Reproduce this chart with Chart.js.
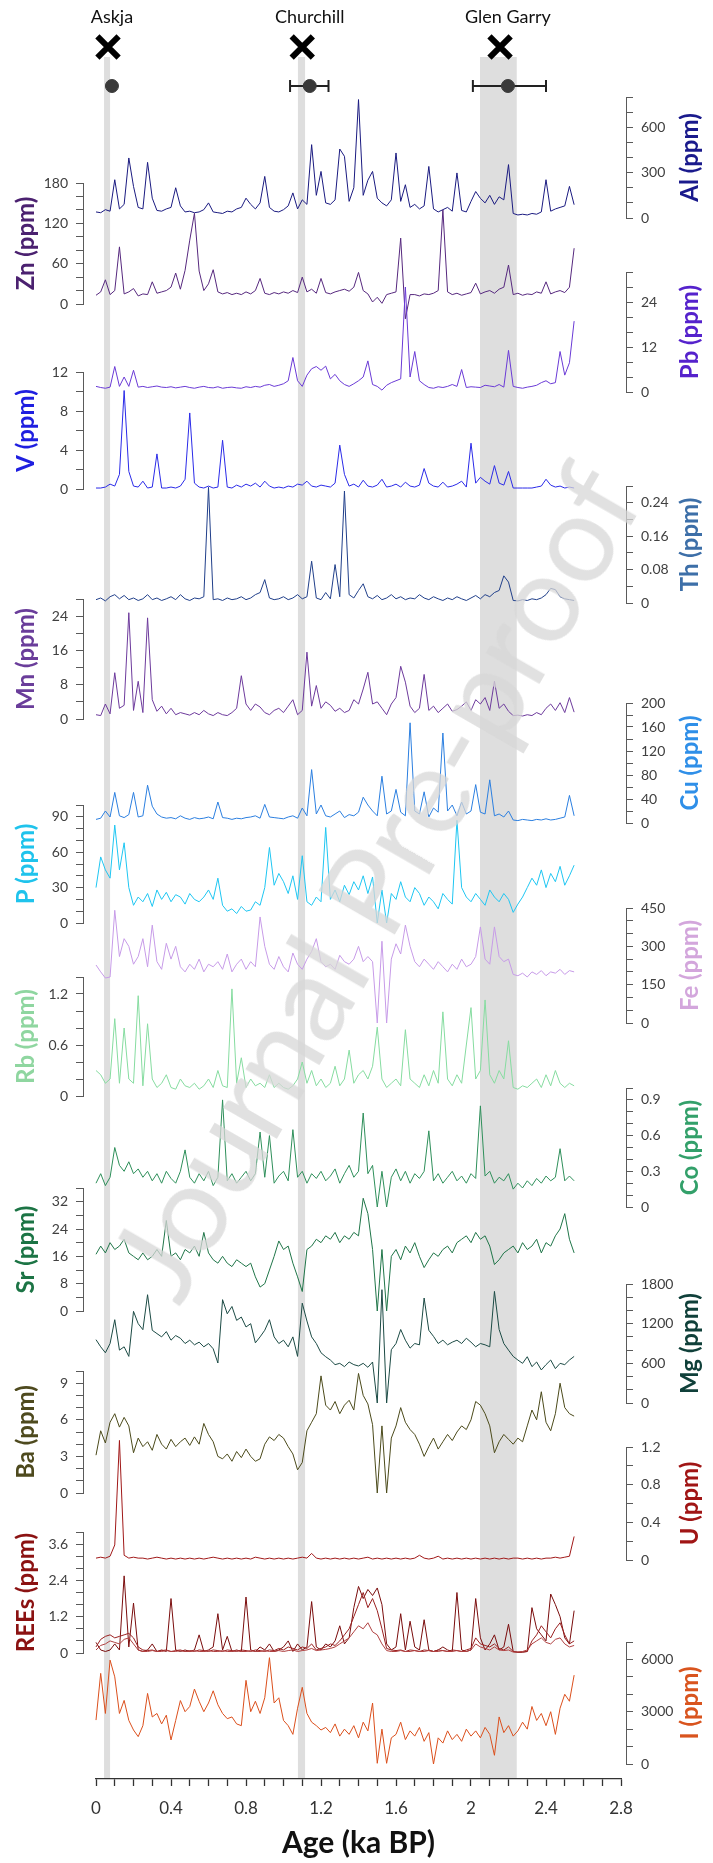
<!DOCTYPE html>
<html>
<head>
<meta charset="utf-8">
<script src="https://cdn.jsdelivr.net/npm/chart.js@4.4.0/dist/chart.umd.min.js"></script>
<style>
body { margin: 0; background: #fff; }
#wrap { position: relative; width: 713px; height: 1863px; overflow: hidden; }
#wrap canvas { position: absolute; left: 0; }
#mark { position: absolute; left: 372px; top: 880px; transform: translate(-50%, -50%) rotate(-60deg);
  font: 122px Lato, sans-serif; color: rgba(215,215,215,0.75); white-space: nowrap; pointer-events: none; line-height: 1; }
</style>
</head>
<body>
<div id="wrap"><canvas id="base" width="713" height="1863" style="top:0"></canvas><div id="mark">Journal Pre-proof</div></div>
<script>
// ages (ka BP) shared by every record
var ages = [0,0.025,0.05,0.075,0.1,0.125,0.15,0.175,0.2,0.225,0.25,0.275,0.3,0.325,0.35,0.375,0.4,0.425,0.45,0.475,0.5,0.525,0.55,0.575,0.6,0.625,0.65,0.675,0.7,0.725,0.75,0.775,0.8,0.825,0.85,0.875,0.9,0.925,0.95,0.975,1,1.025,1.05,1.075,1.1,1.125,1.15,1.175,1.2,1.225,1.25,1.275,1.3,1.325,1.35,1.375,1.4,1.425,1.45,1.475,1.5,1.525,1.55,1.575,1.6,1.625,1.65,1.675,1.7,1.725,1.75,1.775,1.8,1.825,1.85,1.875,1.9,1.925,1.95,1.975,2,2.025,2.05,2.075,2.1,2.125,2.15,2.175,2.2,2.225,2.25,2.275,2.3,2.325,2.35,2.375,2.4,2.425,2.45,2.475,2.5,2.525,2.55];

var al = [40,35,55,45,253,60,90,397,209,70, 60,368,131,50,45,60,70,200,80,40, 45,35,40,55,100,40,35,30,45,40, 60,70,131,90,60,100,275,70,45,40,
  55,80,166,60,120,90,485,150,308,100, 90,120,456,408,110,200,783,150,250,308, 131,100,80,120,430,110,220,70,90,60, 80,341,60,40,55,70,45,298,50,40,
  110,175,130,100,150,90,140,120,353,30, 20,25,20,30,25,40,253,45,60,70, 80,209,88];
var zn = [13,18,36,14,20,85,15,18,23,12, 15,14,33,16,18,20,25,46,22,50, 95,135,49,20,30,51,18,15,17,14, 16,14,18,15,20,38,16,14,17,15,
  18,16,20,17,40,18,22,16,38,17, 15,18,20,22,19,25,47,20,15,3, 10,1,14,16,18,98,-22,14,14,12, 15,14,16,20,140,18,14,16,13,15,
  17,31,15,18,20,16,22,25,58,14, 16,13,15,14,18,16,33,15,18,20, 17,25,83];
var pb = [1.5,1.2,1.0,1.3,6.8,1.5,4.0,1.5,5.8,1.3, 1.5,1.2,1.4,1.6,1.3,1.2,1.4,1.1,1.3,1.5, 1.2,1.0,1.3,1.5,1.2,1.1,1.4,1.0,1.2,1.3, 1.1,1.0,1.4,1.2,1.5,1.3,1.8,2.0,1.5,1.8,
  2.2,3.0,9.2,3.0,1.5,4.5,6.2,6.8,5.8,6.9, 3.5,4.7,3.0,2.0,1.5,2.2,3.0,4.0,8.3,2.0, 1.5,0.5,1.8,2.5,3.0,3.5,28,4.0,10.8,3.0, 2.0,1.2,1.0,1.4,1.2,1.5,2.0,1.5,6.0,1.2,
  1.4,1.3,1.2,1.8,1.6,1.4,2.0,1.3,11.1,1.5, 1.2,1.0,1.3,1.5,1.8,2.5,3.0,2.2,2.5,10.8, 4.5,7.8,18.9];
var v = [0.1,0.1,0.2,0.5,0.3,1.5,10.1,1.8,0.3,0.2, 0.8,0.1,0.2,3.6,0.1,0.1,0.2,0.1,0.3,1.0, 7.8,0.6,0.2,0.1,0.3,0.1,0.2,5.0,0.2,0.1, 0.4,0.2,0.5,0.3,0.6,0.2,0.8,0.3,0.1,0.2,
  0.1,0.3,0.2,0.5,0.4,0.8,0.3,0.2,0.4,0.3, 0.2,0.6,4.5,1.5,0.3,0.5,0.2,0.9,0.3,0.2, 0.4,1.0,0.2,0.3,0.5,0.2,0.7,0.3,0.2,0.4, 2.1,0.6,0.3,0.2,0.7,0.2,0.3,0.5,0.8,0.2,
  4.7,0.6,1.2,0.8,0.5,2.4,0.6,0.4,1.8,0.1, 0.1,0.1,0.1,0.1,0.2,0.3,1.0,0.4,0.2,0.3, 0.1,0.2,0.1];
var th = [.008,.012,.005,.015,.02,.01,.018,.008,.012,.006, .01,.02,.008,.012,.006,.01,.015,.008,.02,.01, .006,.012,.01,.015,.277,.008,.01,.006,.012,.008, .01,.015,.008,.012,.02,.025,.056,.012,.008,.01,
  .015,.008,.012,.02,.01,.015,.10,.012,.008,.025, .01,.092,.015,.268,.02,.012,.03,.046,.015,.01, .018,.008,.012,.02,.01,.015,.008,.012,.01,.02, .012,.008,.015,.01,.006,.012,.008,.015,.01,.006,
  .012,.018,.01,.02,.015,.025,.03,.065,.05,.006, .005,.008,.006,.01,.008,.012,.02,.035,.032,.015, .01,.008,.006];
var mn = [1.0,0.8,3.5,1.2,10.8,2.5,3.2,24.8,2.0,8.8, 1.5,23.6,4.5,1.8,3.0,1.2,2.5,1.0,1.5,1.2, 0.9,1.5,1.0,2.0,1.2,0.8,1.5,1.0,0.8,1.5, 2.5,10.1,3.5,2.0,3.5,2.8,1.5,1.0,2.0,2.5,
  1.5,3.0,4.5,1.0,2.0,15.6,3.0,7.8,2.5,4.0, 3.2,1.8,2.5,1.5,2.0,4.5,3.5,7.0,10.9,3.5, 4.0,2.5,1.0,3.5,5.0,12.3,8.6,3.0,1.5,2.5, 10.4,2.0,3.0,1.5,2.5,3.5,1.8,2.2,3.0,4.0,
  2.0,4.5,3.5,5.0,2.0,8.8,2.5,3.5,1.8,0.8, 0.9,0.7,1.0,0.8,1.5,1.0,2.5,3.5,2.0,3.8, 1.5,5.0,1.6];
var cu = [6,8,20,10,51,12,9,14,51,10, 12,63,28,15,10,8,9,7,12,8, 6,9,7,8,10,7,35,9,8,6, 8,7,9,10,12,8,31,10,9,8,
  7,10,12,8,25,12,89,15,30,12, 10,15,20,9,14,12,18,43,30,20, 12,78,15,20,56,18,12,167,20,15, 52,10,25,18,150,20,30,12,35,15,
  20,64,18,15,72,12,15,10,20,5, 4,6,5,4,6,5,7,5,6,8, 10,46,12];
var p = [30,56,45,38,83,45,68,30,15,22, 18,25,14,28,20,26,18,24,22,16, 25,20,18,22,28,20,38,15,10,12, 8,14,10,11,18,15,30,64,32,42,
  35,25,40,20,57,18,15,22,18,81, 20,28,18,32,24,35,28,40,25,39, 0,28,0,25,20,35,22,18,30,25, 15,22,18,12,25,20,16,87,30,22,
  18,25,20,15,28,22,18,25,20,9, 16,22,30,38,32,45,30,42,35,48, 32,40,49];
var fe = [227,200,176,180,441,260,330,300,230,260, 330,220,383,240,210,312,250,300,220,200, 230,210,250,200,230,220,240,210,270,200, 230,250,210,240,220,415,300,230,210,260,
  220,200,274,230,210,250,280,330,240,220, 230,210,265,240,230,250,300,240,260,240, 0,320,0,250,310,270,383,300,240,220, 250,230,210,240,220,200,230,210,250,220,
  230,260,376,250,230,376,260,240,250,190, 185,195,180,200,190,205,185,200,195,210, 190,205,200];
var rb = [0.3,0.25,0.15,0.2,0.91,0.15,0.8,0.2,0.15,1.18, 0.12,0.85,0.2,0.1,0.15,0.25,0.1,0.08,0.2,0.12, 0.1,0.15,0.08,0.12,0.2,0.1,0.3,0.12,0.1,1.26, 0.15,0.45,0.1,0.2,0.12,0.15,0.1,0.25,0.1,0.15,
  0.1,0.08,0.12,0.2,0.4,0.15,0.3,0.12,0.2,0.1, 0.15,0.35,0.12,0.2,0.54,0.15,0.25,0.3,0.2,0.35, 0.81,0.2,0.1,0.15,0.2,0.12,0.78,0.2,0.15,0.1, 0.25,0.12,0.3,0.15,0.99,0.2,0.12,0.25,0.15,0.6,
  1.04,0.2,0.3,1.13,0.25,0.15,0.3,0.2,0.65,0.1, 0.08,0.12,0.1,0.15,0.2,0.1,0.25,0.12,0.3,0.15, 0.1,0.15,0.12];
var co = [0.2,0.28,0.18,0.25,0.5,0.35,0.3,0.38,0.28,0.32, 0.25,0.3,0.22,0.28,0.2,0.3,0.24,0.2,0.3,0.48, 0.25,0.2,0.28,0.22,0.3,0.18,0.25,0.9,0.22,0.28, 0.2,0.25,0.3,0.22,0.28,0.63,0.25,0.6,0.2,0.26,
  0.3,0.22,0.65,0.25,0.3,0.2,0.28,0.24,0.3,0.22, 0.26,0.32,0.2,0.28,0.35,0.25,0.3,0.79,0.28,0.35, 0.0,0.3,0.0,0.25,0.32,0.22,0.3,0.2,0.28,0.24, 0.3,0.64,0.22,0.28,0.2,0.25,0.3,0.22,0.26,0.2,
  0.28,0.24,0.85,0.26,0.3,0.2,0.25,0.22,0.28,0.15, 0.2,0.16,0.22,0.18,0.24,0.2,0.26,0.22,0.25,0.49, 0.22,0.26,0.22];
var sr = [16.6,19,17,20,18,19,21,17,16,15, 17,15,16,18,16,26.5,16,17,15,18, 17,19,16,23,17,15,14,16,14,13, 15,14,13,14,10,7,8,12,16,20.5,
  18,19,14,10,5.7,18,19,21,20,22, 21,23,20,22,21,23,22,33,28.5,18, 0,18,0,16,18,15,19,17,20,16, 12.7,15,17,16,18,19,17,20,21,22,
  20,23,21,22,19,13.6,15,17,18,19, 17,20,18,19,21,17,20,19,22,24, 28.5,21,17];
var mg = [958,850,760,900,1260,800,850,705,1386,1200, 1109,1638,1100,1050,1000,1080,950,1020,980,900, 950,880,920,850,900,820,605,1563,1350,1460, 1250,1300,1150,1200,910,1000,1100,1260,1000,900,
  950,850,1000,705,1510,1240,1000,900,760,700, 650,580,600,550,620,580,560,600,540,620, 0,1714,0,806,900,1112,950,830,900,880, 1588,1100,1008,900,950,880,920,950,900,980,
  920,850,900,880,850,1688,1112,900,800,705, 650,600,700,550,620,500,580,650,520,600, 580,650,705];
var ba = [3.1,5.1,4.1,5.8,6.5,5.4,6.2,5.5,3.3,4.5, 3.8,4.2,3.5,4.8,4.0,3.6,4.4,3.8,4.2,4.5, 3.9,4.6,4.0,5.7,4.8,4.2,3.0,2.8,3.2,2.6, 3.4,2.9,3.6,3.0,2.6,2.8,4.0,4.6,4.3,4.8,
  4.5,3.8,3.2,1.9,2.5,5.1,5.8,6.5,9.6,7.2, 6.8,7.5,6.5,7.2,7.6,6.8,9.8,8.0,7.3,5.6, 0,5.5,0,4.5,5.5,7.0,5.8,5.2,4.8,4.0, 3.0,3.8,4.5,3.6,4.2,4.8,4.3,5.0,5.5,5.2,
  6.0,7.5,7.2,6.5,5.5,3.3,4.2,4.8,4.4,4.0, 4.5,4.2,5.5,6.8,6.0,8.3,5.8,5.1,6.5,9.0, 7.0,6.5,6.3];
var u = [0.02,0.03,0.02,0.04,0.16,1.27,0.05,0.02,0.03,0.02, 0.02,0.01,0.02,0.03,0.02,0.01,0.02,0.01,0.02,0.01, 0.02,0.01,0.02,0.01,0.02,0.03,0.02,0.01,0.02,0.01, 0.02,0.01,0.02,0.01,0.03,0.02,0.01,0.02,0.01,0.02,
  0.01,0.02,0.01,0.02,0.03,0.02,0.07,0.02,0.01,0.02, 0.01,0.02,0.01,0.02,0.01,0.02,0.01,0.02,0.03,0.01, 0.02,0.01,0.02,0.01,0.02,0.01,0.02,0.01,0.02,0.05, 0.02,0.01,0.02,0.04,0.01,0.02,0.01,0.02,0.01,0.02,
  0.01,0.02,0.01,0.02,0.01,0.02,0.01,0.02,0.01,0.02, 0.02,0.01,0.02,0.01,0.02,0.01,0.02,0.02,0.03,0.02, 0.03,0.04,0.25];
var ree1 = [0.35,0.1,0.05,0.1,0.3,0.1,2.55,0.2,1.65,0.1, 0.05,0.1,0.3,0.05,0.1,0.05,1.8,0.1,0.05,0.1, 0.05,0.1,0.6,0.05,0.1,0.2,1.3,0.1,0.55,0.05, 0.1,0.05,1.85,0.1,0.05,0.2,0.1,0.3,0.05,0.1,
  0.2,0.4,0.05,0.3,0.1,0.2,1.7,0.2,0.1,0.3, 0.2,0.4,0.9,0.3,0.5,1.5,2.2,1.8,2.1,1.9, 2.15,1.6,0.3,0.1,0.2,1.3,0.1,1.05,0.2,0.1, 1.1,0.1,0.05,0.1,0.2,0.1,0.05,2.0,0.1,0.05,
  0.1,1.8,0.5,0.1,0.3,0.6,0.1,0.2,0.95,0.05, 0.02,0.03,0.05,1.5,0.8,0.6,0.4,1.95,1.6,1.2, 0.5,0.3,1.4];
var ree2 = [0.2,0.45,0.55,0.6,0.5,0.55,0.6,0.65,0.5,0.2, 0.1,0.08,0.1,0.05,0.08,0.1,0.05,0.08,0.1,0.05, 0.08,0.05,0.1,0.08,0.05,0.1,0.08,0.05,0.1,0.08, 0.05,0.1,0.08,0.05,0.1,0.08,0.05,0.1,0.08,0.15,
  0.1,0.2,0.15,0.1,0.2,0.15,0.3,0.1,0.15,0.2, 0.3,0.25,0.4,0.6,0.8,1.2,1.6,2.0,1.5,1.8, 1.4,0.8,0.15,0.1,0.08,0.1,0.05,0.1,0.08,0.05, 0.1,0.08,0.05,0.1,0.08,0.05,0.1,0.08,0.05,0.1,
  0.15,0.5,0.3,0.25,0.2,0.3,0.15,0.1,0.2,0.05, 0.03,0.03,0.05,0.4,0.6,0.9,0.7,0.5,0.8,1.0, 0.6,0.3,0.4];
var ree3 = [0.1,0.25,0.3,0.4,0.35,0.3,0.45,0.5,0.3,0.1, 0.05,0.05,0.08,0.05,0.05,0.08,0.05,0.05,0.08,0.05, 0.05,0.08,0.05,0.05,0.08,0.05,0.05,0.08,0.05,0.05, 0.08,0.05,0.05,0.08,0.05,0.05,0.08,0.05,0.05,0.08,
  0.05,0.08,0.1,0.05,0.08,0.1,0.15,0.08,0.1,0.12, 0.15,0.2,0.3,0.4,0.5,0.7,0.9,0.8,1.0,0.7, 0.6,0.3,0.08,0.05,0.05,0.08,0.05,0.05,0.08,0.05, 0.05,0.08,0.05,0.05,0.08,0.05,0.05,0.08,0.05,0.05,
  0.1,0.3,0.2,0.15,0.1,0.2,0.1,0.08,0.1,0.03, 0.03,0.05,0.1,0.3,0.4,0.5,0.35,0.3,0.45,0.5, 0.3,0.2,0.25];
var iod = [2520,5200,2900,5960,5000,2900,3650,2500,1950,1570, 2200,4050,2700,2900,2300,2800,1380,2500,3640,3000, 3300,4300,3600,3000,3500,4200,3400,2900,2600,2700, 2300,2200,4800,3000,3600,2900,3800,6100,3500,3800,
  2500,2200,1700,3200,4400,2900,2400,2200,1950,2100, 1800,2300,1600,2000,1700,2200,1500,2400,1900,3500, 40,2000,40,1500,1700,2400,1400,1900,1600,2100, 1300,1800,0,1500,1200,1900,1400,1700,1300,2000,
  1600,1900,1500,2100,1700,500,2700,1800,2200,1600, 1900,2400,2000,3300,2500,2900,2200,3000,1700,3200, 4000,3600,5100];

// tephra layers
var tephraNames = ["Askja", "Churchill", "Glen Garry"];
var tephraAges = [0.064, 1.10, 2.155];
var modelAges = [0.085, 1.14, 2.197];
var modelLo = [null, 1.035, 2.01];
var modelHi = [null, 1.24, 2.40];
var bandFrom = [0.043, 1.077, 2.048];
var bandTo = [0.075, 1.115, 2.244];

var W = 713;
var axisLeftPx = 83, axisRightPx = 626;
var zeroPx = 96, endPx = 621, xAxisPx = 1779, bandTopPx = 57;
var pxPerKa = (endPx - zeroPx) / 2.8;
var xMin = -(zeroPx - axisLeftPx) / pxPerKa;
var xMax = 2.8 + (axisRightPx - endPx) / pxPerKa;

var panels = [
  {label:"Al (ppm)", lines:[al], colors:["#1a1a80"], title:"#1a1a8c", side:"right", max:800, step:100, every:300, dp:0, top:97.4, zero:218.3},
  {label:"Zn (ppm)", lines:[zn], colors:["#56287e"], title:"#4b2170", side:"left", max:180, step:20, every:60, dp:0, top:183.3, zero:304},
  {label:"Pb (ppm)", lines:[pb], colors:["#6a3ad6"], title:"#5522cc", side:"right", max:32, step:4, every:12, dp:0, top:271.7, zero:391.7},
  {label:"V (ppm)", lines:[v], colors:["#2a2ae8"], title:"#1f1fe0", side:"left", max:12, step:2, every:4, dp:0, top:371.7, zero:489},
  {label:"Th (ppm)", lines:[th], colors:["#203f8a"], title:"#3d6fa8", side:"right", max:0.28, step:0.04, every:0.08, dp:2, top:485.7, zero:603.3},
  {label:"Mn (ppm)", lines:[mn], colors:["#6d3a9c"], title:"#6a3d9a", side:"left", max:28, step:4, every:8, dp:0, top:599.3, zero:719.3},
  {label:"Cu (ppm)", lines:[cu], colors:["#2b7fe0"], title:"#2f8fe8", side:"right", max:200, step:20, every:40, dp:0, top:702.7, zero:822.7},
  {label:"P (ppm)", lines:[p], colors:["#1ec6f2"], title:"#1fc3ec", side:"left", max:100, step:10, every:30, dp:0, top:805, zero:923.3},
  {label:"Fe (ppm)", lines:[fe], colors:["#c79be8"], title:"#d3a6dc", side:"right", max:450, step:50, every:150, dp:0, top:907.7, zero:1023.3},
  {label:"Rb (ppm)", lines:[rb], colors:["#86dca0"], title:"#8fd6a0", side:"left", max:1.4, step:0.2, every:0.6, dp:1, top:976.7, zero:1096},
  {label:"Co (ppm)", lines:[co], colors:["#2e8f5a"], title:"#33a06a", side:"right", max:1.0, step:0.1, every:0.3, dp:1, top:1088.3, zero:1207.3},
  {label:"Sr (ppm)", lines:[sr], colors:["#1f7548"], title:"#1c7445", side:"left", max:36, step:4, every:8, dp:0, top:1188.3, zero:1310.7},
  {label:"Mg (ppm)", lines:[mg], colors:["#1b4a44"], title:"#10403a", side:"right", max:1800, step:200, every:600, dp:0, top:1284.3, zero:1403.3},
  {label:"Ba (ppm)", lines:[ba], colors:["#4b4a1a"], title:"#4e4a1e", side:"left", max:10, step:1, every:3, dp:0, top:1370.7, zero:1493.3},
  {label:"U (ppm)", lines:[u], colors:["#a01818"], title:"#a01515", side:"right", max:1.2, step:0.2, every:0.4, dp:1, top:1446.7, zero:1560},
  {label:"REEs (ppm)", lines:[ree3, ree2, ree1], colors:["#b04040", "#9a2020", "#7a0c0c"], title:"#8b1212", side:"left", max:4, step:0.4, every:1.2, dp:1, top:1532.3, zero:1653.3},
  {label:"I (ppm)", lines:[iod], colors:["#db4f1c"], title:"#d9541e", side:"right", max:7000, step:1000, every:3000, dp:0, top:1641.7, zero:1764}
];

var wrap = document.getElementById("wrap");
var mark = document.getElementById("mark");

function isMultiple(val, of) {
  var r = val / of;
  return Math.abs(r - Math.round(r)) < 1e-6;
}

var sideTitle = {
  id: "sideTitle",
  afterDraw: function(chart, args, o) {
    if (!o.text) return;
    var a = chart.chartArea, ctx = chart.ctx;
    ctx.save();
    ctx.translate(o.x, (a.top + a.bottom) / 2);
    ctx.rotate(-Math.PI / 2);
    ctx.font = "bold 24px Lato";
    ctx.fillStyle = o.color;
    ctx.textAlign = "center";
    ctx.textBaseline = "middle";
    ctx.fillText(o.text, 0, 0);
    ctx.restore();
  }
};

var bandPlugin = {
  id: "bands",
  beforeDraw: function(chart) {
    var x = chart.scales.x, ctx = chart.ctx;
    ctx.save();
    ctx.fillStyle = "#dedede";
    for (var i = 0; i < bandFrom.length; i++) {
      var x1 = x.getPixelForValue(bandFrom[i]);
      var x2 = x.getPixelForValue(bandTo[i]);
      ctx.fillRect(x1, bandTopPx, x2 - x1, chart.chartArea.bottom - bandTopPx);
    }
    ctx.restore();
  }
};

var tephraLabels = {
  id: "tephraLabels",
  afterDatasetsDraw: function(chart) {
    var x = chart.scales.x, ctx = chart.ctx;
    ctx.save();
    ctx.font = "18px Lato";
    ctx.fillStyle = "#111";
    ctx.textAlign = "center";
    ctx.textBaseline = "middle";
    for (var i = 0; i < tephraNames.length; i++) {
      ctx.fillText(tephraNames[i], x.getPixelForValue(modelAges[i]), chart.chartArea.top - 30);
    }
    ctx.restore();
  }
};

function addCanvas(top, h) {
  var c = document.createElement("canvas");
  c.width = W; c.height = h;
  c.style.top = top + "px";
  c.style.width = W + "px"; c.style.height = h + "px";
  wrap.insertBefore(c, mark);
  return c;
}

// base chart: the age axis and the grey tephra bands
new Chart(document.getElementById("base"), {
  type: "line",
  data: { datasets: [] },
  options: {
    responsive: false, animation: false,
    layout: { padding: { left: zeroPx, right: W - endPx, top: 0, bottom: 0 } },
    plugins: { legend: { display: false }, tooltip: { enabled: false } },
    scales: {
      x: {
        type: "linear", min: 0, max: 2.8,
        afterFit: function(s) { s.height = 1863 - xAxisPx; },
        ticks: { stepSize: 0.1, autoSkip: false, maxRotation: 0, padding: 12, color: "#333",
          font: { family: "Lato", size: 17 },
          callback: function(val) { return isMultiple(val, 0.4) ? String(+val.toFixed(1)) : ""; } },
        grid: { drawOnChartArea: false, tickLength: 7, color: "#333", tickWidth: 1.3 },
        border: { color: "#333", width: 1.3 },
        title: { display: true, text: "Age (ka BP)", color: "#111",
          font: { family: "Lato", size: 30, weight: "bold" }, padding: { top: 0, bottom: 2 } }
      },
      y: { display: false, min: 0, max: 1 }
    }
  },
  plugins: [bandPlugin]
});

// one small chart per element record; the axis box spans the margin on its side
function makePanel(pn) {
  var pad = 40;
  var top = Math.round(pn.top), zero = Math.round(pn.zero);
  var c = addCanvas(top - pad, zero - top + 2 * pad);
  var left = pn.side == "left";
  var boxW = left ? axisLeftPx : W - axisRightPx;
  var sets = pn.lines.map(function(vals, k) {
    return {
      data: ages.map(function(a, i) { return { x: a, y: vals[i] }; }),
      borderColor: pn.colors[k], borderWidth: 1, pointRadius: 0, tension: 0, clip: false
    };
  });
  new Chart(c, {
    type: "line",
    data: { datasets: sets },
    options: {
      responsive: false, animation: false,
      layout: { padding: { top: pad, bottom: pad, left: left ? 0 : axisLeftPx, right: left ? W - axisRightPx : 0 } },
      plugins: { legend: { display: false }, tooltip: { enabled: false },
        sideTitle: { text: pn.label, color: pn.title, x: left ? 26 : 690 } },
      scales: {
        x: { type: "linear", display: false, min: xMin, max: xMax },
        y: {
          type: "linear", position: pn.side, min: 0, max: pn.max,
          afterFit: function(s) { s.width = boxW; },
          ticks: { stepSize: pn.step, autoSkip: false, padding: 8, color: "#404040",
            font: { family: "Lato", size: 14 },
            callback: function(val) { return isMultiple(val, pn.every) ? String(+val.toFixed(pn.dp)) : ""; } },
          grid: { drawOnChartArea: false, tickLength: 7, color: "#5a5a5a" },
          border: { color: "#5a5a5a" }
        }
      }
    },
    plugins: [sideTitle]
  });
}
panels.forEach(makePanel);

// tephra markers along the top
var markerSets = [
  { data: modelAges.map(function(a) { return { x: a, y: 0 }; }), showLine: false,
    pointRadius: 6.5, pointBackgroundColor: "#3a3a3a", pointBorderColor: "#3a3a3a", clip: false },
  { data: tephraAges.map(function(a) { return { x: a, y: 1 }; }), showLine: false,
    pointStyle: "crossRot", pointRadius: 15, pointBorderWidth: 6, pointBorderColor: "#000", clip: false }
];
for (var i = 0; i < modelLo.length; i++) {
  if (modelLo[i] == null) continue;
  markerSets.push({ data: [{ x: modelLo[i], y: 0 }, { x: modelHi[i], y: 0 }],
    borderColor: "#222", borderWidth: 2, pointStyle: "line", pointRotation: 90,
    pointRadius: 6, pointBorderWidth: 2, pointBorderColor: "#222", clip: false });
}
new Chart(addCanvas(0, 110), {
  type: "line",
  data: { datasets: markerSets },
  options: {
    responsive: false, animation: false,
    layout: { padding: { top: 47, bottom: 24, left: zeroPx, right: W - endPx } },
    plugins: { legend: { display: false }, tooltip: { enabled: false } },
    scales: { x: { type: "linear", display: false, min: 0, max: 2.8 }, y: { display: false, min: 0, max: 1 } }
  },
  plugins: [tephraLabels]
});
</script>
</body>
</html>
